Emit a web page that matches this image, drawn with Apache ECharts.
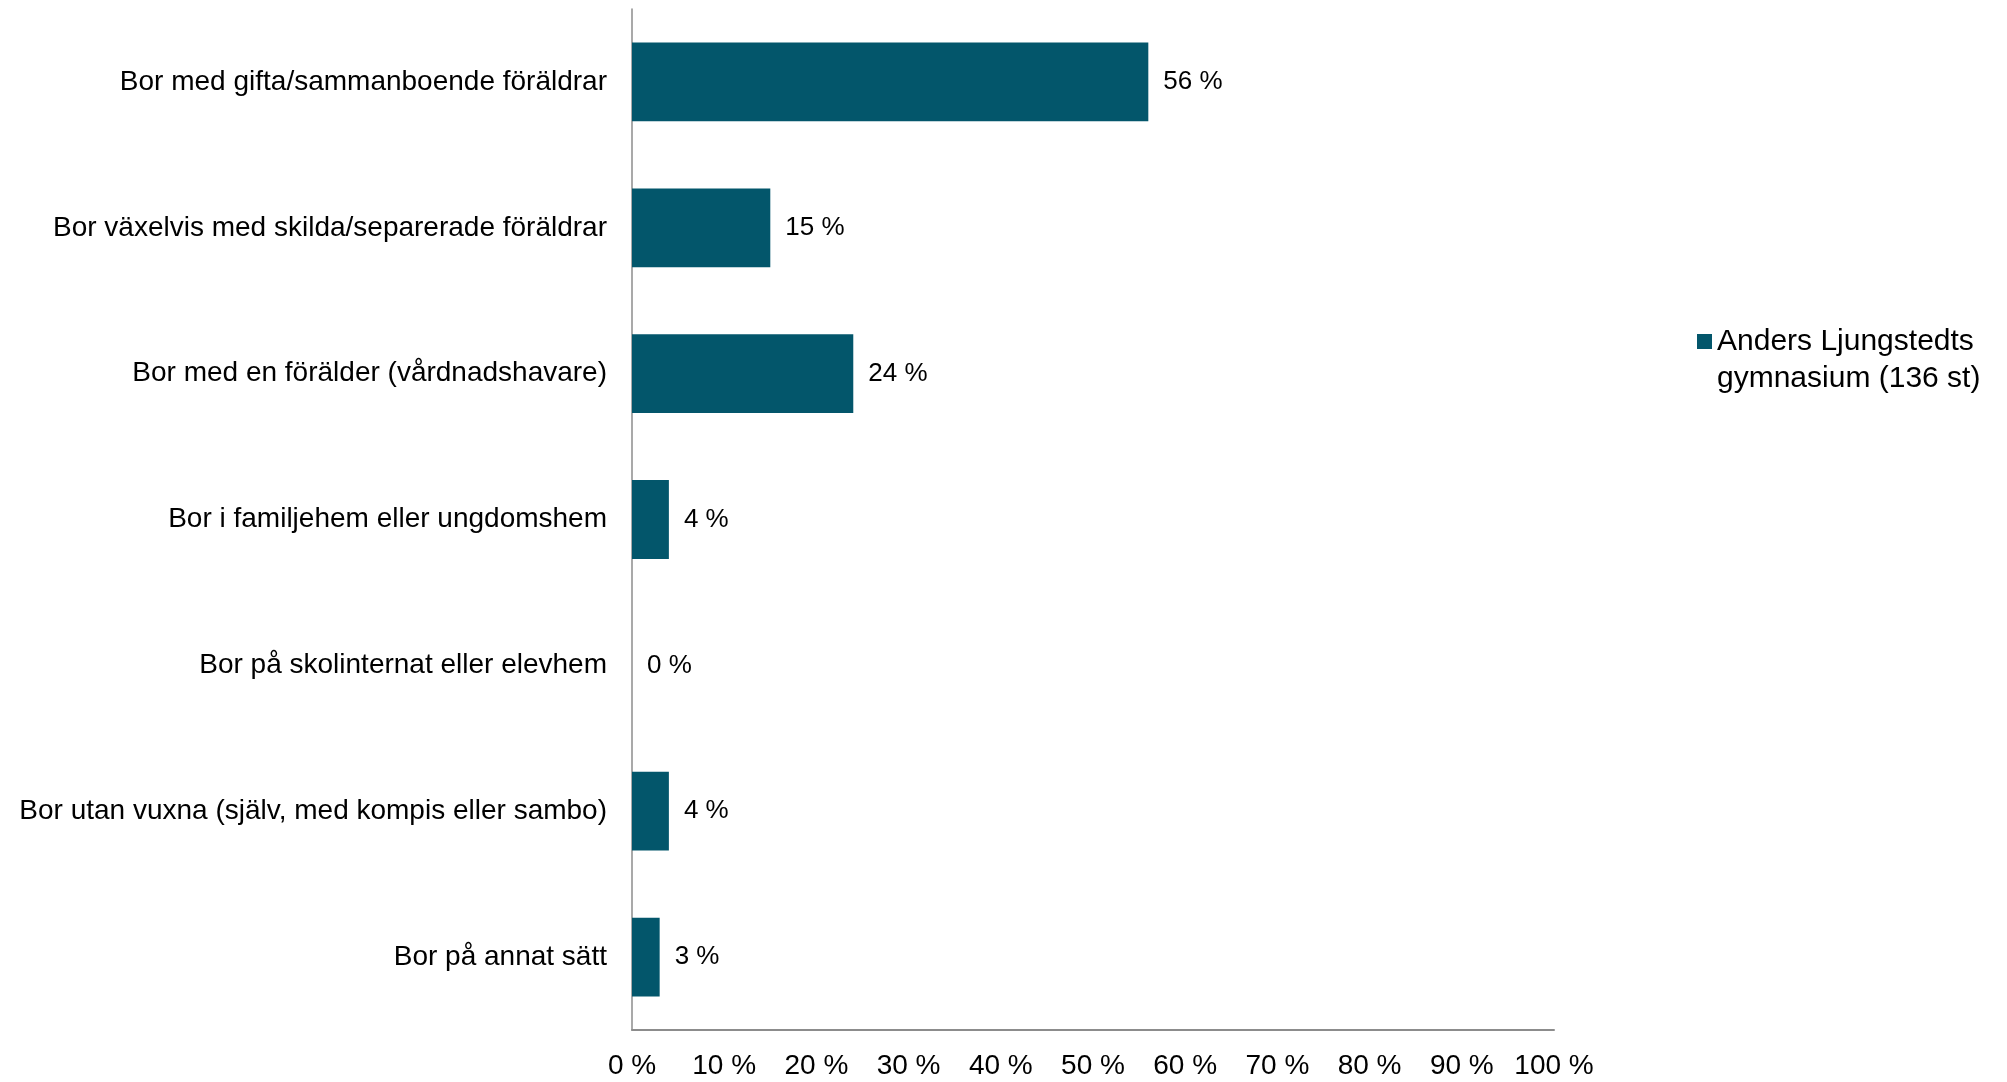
<!DOCTYPE html>
<html>
<head>
<meta charset="utf-8">
<script src="https://cdn.jsdelivr.net/npm/echarts@6/dist/echarts.min.js"></script>
<style>
  html, body { margin: 0; padding: 0; background: #ffffff; }
  #chart { width: 2007px; height: 1082px; }
</style>
</head>
<body>
<div id="chart"></div>
<script>
// Boendesituation, andel elever (%)
const categories = [
  'Bor med gifta/sammanboende föräldrar',
  'Bor växelvis med skilda/separerade föräldrar',
  'Bor med en förälder (vårdnadshavare)',
  'Bor i familjehem eller ungdomshem',
  'Bor på skolinternat eller elevhem',
  'Bor utan vuxna (själv, med kompis eller sambo)',
  'Bor på annat sätt'
];
const values = [56, 15, 24, 4, 0, 4, 3];
const seriesName = 'Anders Ljungstedts gymnasium (136 st)';
const legendLines = ['Anders Ljungstedts', 'gymnasium (136 st)'];
const xTicks = { min: 0, max: 100, interval: 10 };

const font = '"Liberation Sans", Arial, sans-serif';
const barColor = '#03566b';
const axisGray = '#8c8c8c';

const chart = echarts.init(document.getElementById('chart'), null, { renderer: 'canvas' });
chart.setOption({
  backgroundColor: '#ffffff',
  animation: false,
  textStyle: { fontFamily: font },
  grid: { left: 632, right: 453, top: 9, bottom: 52, containLabel: false },
  legend: {
    left: 1697,
    top: 286,
    padding: 0,
    icon: 'rect',
    itemWidth: 15,
    itemHeight: 15,
    selectedMode: false,
    // leading blank line keeps the marker level with the first text line
    formatter: () => ' \n' + legendLines.join('\n'),
    textStyle: {
      fontFamily: font,
      fontSize: 30,
      color: '#000000',
      lineHeight: 37
    },
    data: [seriesName]
  },
  xAxis: {
    type: 'value',
    min: xTicks.min,
    max: xTicks.max,
    interval: xTicks.interval,
    axisLine: { show: true, lineStyle: { color: axisGray, width: 2 } },
    axisTick: { show: false },
    splitLine: { show: false },
    axisLabel: {
      formatter: '{value} %',
      fontFamily: font,
      fontSize: 28,
      color: '#000000',
      margin: 22
    }
  },
  yAxis: {
    type: 'category',
    inverse: true,
    data: categories,
    axisLine: { show: true, lineStyle: { color: axisGray, width: 1.5 } },
    axisTick: { show: false },
    splitLine: { show: false },
    axisLabel: {
      fontFamily: font,
      fontSize: 28,
      color: '#000000',
      margin: 25,
      padding: [5, 0, 0, 0]
    }
  },
  series: [{
    name: seriesName,
    type: 'bar',
    data: values,
    barCategoryGap: '46%',
    itemStyle: { color: barColor },
    label: {
      show: true,
      position: 'right',
      distance: 15,
      formatter: '{c} %',
      fontFamily: font,
      fontSize: 26,
      color: '#000000',
      padding: [5, 0, 0, 0]
    }
  }]
});
</script>
</body>
</html>
